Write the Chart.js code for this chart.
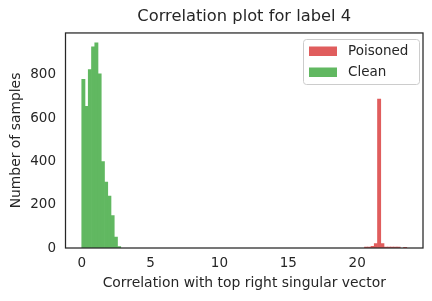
<!DOCTYPE html>
<html>
<head>
<meta charset="utf-8">
<script src="https://cdn.jsdelivr.net/npm/chart.js@4.4.1/dist/chart.umd.min.js"></script>
<style>
  html, body { margin: 0; padding: 0; background: #fff; }
</style>
</head>
<body>
<canvas id="histChart" width="432" height="301"></canvas>
<script>
// histogram bins: 100 bins of equal width starting at 0
var binStart = 0;
var binWidth = 0.236;

// clean samples fall in the first bins
var cleanBins = [0, 1, 2, 3, 4, 5, 6, 7, 8, 9, 10, 11];
var cleanCounts = [780, 655, 825, 930, 948, 805, 400, 305, 240, 150, 50, 6];

// poisoned samples sit near 21.5
var poisonedBins = [87, 88, 89, 90, 91, 92, 93, 94, 95, 96, 97, 99];
var poisonedCounts = [4, 4, 8, 20, 688, 20, 4, 4, 4, 4, 4, 3];

var xTicks = [0, 5, 10, 15, 20];
var yTicks = [0, 200, 400, 600, 800];

var textColor = '#262626';
var fontFamily = "'DejaVu Sans', sans-serif";

function toPoints(bins, counts) {
    var pts = [];
    for (var i = 0; i < bins.length; i++) {
        pts.push({x: binStart + (bins[i] + 0.5) * binWidth, y: counts[i]});
    }
    return pts;
}

// frame round the plot area (seaborn white style)
var framePlugin = {
    id: 'frame',
    afterDatasetsDraw: function(chart) {
        var a = chart.chartArea, ctx = chart.ctx;
        ctx.save();
        ctx.strokeStyle = textColor;
        ctx.lineWidth = 1.25;
        ctx.strokeRect(a.left, a.top, a.right - a.left, a.bottom - a.top);
        ctx.restore();
    }
};

// matplotlib-like legend box in the upper right corner
var boxLegend = {
    id: 'boxLegend',
    afterDraw: function(chart) {
        var ctx = chart.ctx;
        var x = 303.5, y = 39.5, w = 116, h = 45;
        ctx.save();
        ctx.beginPath();
        ctx.roundRect(x, y, w, h, 3);
        ctx.fillStyle = 'rgba(255,255,255,0.8)';
        ctx.fill();
        ctx.strokeStyle = '#cccccc';
        ctx.lineWidth = 1;
        ctx.stroke();
        ctx.font = '13.5px ' + fontFamily;
        ctx.textBaseline = 'middle';
        chart.data.datasets.forEach(function(ds, i) {
            var cy = 51 + i * 21;
            ctx.fillStyle = ds.backgroundColor;
            ctx.fillRect(309, cy - 4.5, 28, 9.5);
            ctx.fillStyle = textColor;
            ctx.fillText(ds.label, 348, cy + 0.5);
        });
        ctx.restore();
    }
};

new Chart(document.getElementById('histChart'), {
    type: 'bar',
    data: {
        datasets: [{
            label: 'Poisoned',
            data: toPoints(poisonedBins, poisonedCounts),
            backgroundColor: '#e05d5d'
        }, {
            label: 'Clean',
            data: toPoints(cleanBins, cleanCounts),
            backgroundColor: '#61b861'
        }]
    },
    options: {
        responsive: false,
        animation: false,
        layout: { padding: { left: 0, right: 9, top: 0, bottom: 0 } },
        datasets: {
            bar: { grouped: false, categoryPercentage: 1, barPercentage: 1, borderWidth: 0 }
        },
        scales: {
            x: {
                type: 'linear',
                offset: false,
                min: -1.18,
                max: 24.78,
                grid: { display: false, drawTicks: false },
                border: { display: false },
                ticks: { padding: 7.5, color: textColor, font: { family: fontFamily, size: 13.5 } },
                afterBuildTicks: function(s) { s.ticks = xTicks.map(function(v) { return {value: v}; }); },
                afterFit: function(s) { s.height = 53; },
                title: {
                    display: true,
                    text: 'Correlation with top right singular vector',
                    color: textColor,
                    font: { family: fontFamily, size: 13.9 },
                    padding: { top: 0, bottom: 9.7 }
                }
            },
            y: {
                min: 0,
                max: 994,
                grid: { display: false, drawTicks: false },
                border: { display: false },
                ticks: { padding: 9.5, color: textColor, font: { family: fontFamily, size: 13.5 } },
                afterBuildTicks: function(s) { s.ticks = yTicks.map(function(v) { return {value: v}; }); },
                afterFit: function(s) { s.width = 65.5; },
                title: {
                    display: true,
                    text: 'Number of samples',
                    color: textColor,
                    font: { family: fontFamily, size: 13.9 },
                    padding: { top: 8.4, bottom: 0 }
                }
            }
        },
        plugins: {
            legend: { display: false },
            tooltip: { enabled: false },
            title: {
                display: true,
                fullSize: false,
                text: 'Correlation plot for label 4',
                color: textColor,
                font: { family: fontFamily, size: 16.3, weight: 'normal' },
                padding: { top: 7, bottom: 6.4 }
            }
        }
    },
    plugins: [framePlugin, boxLegend]
});
</script>
</body>
</html>
